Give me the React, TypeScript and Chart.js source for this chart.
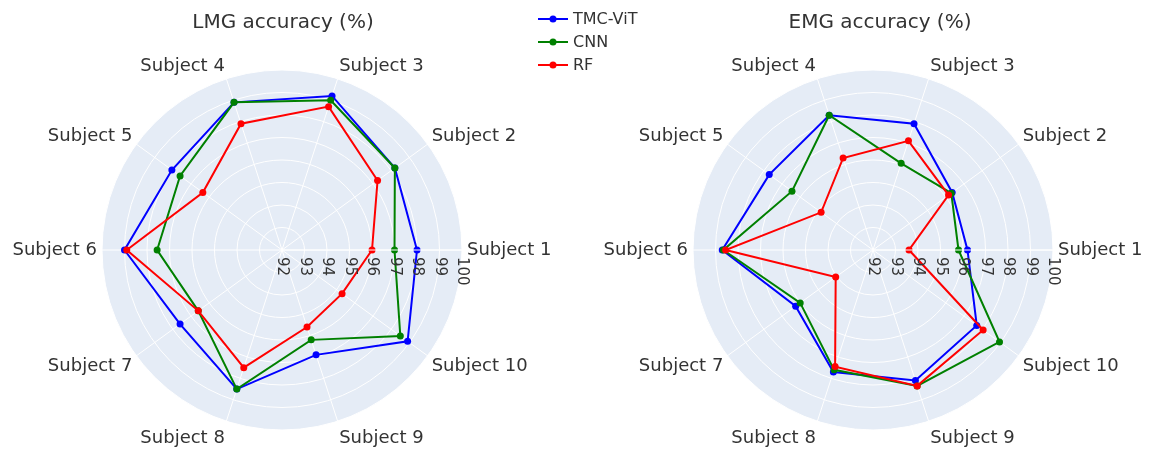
import React, { useEffect, useRef } from 'react';
import { Chart, registerables } from 'chart.js';

Chart.register(...registerables);

// ---------- data ----------
const subjects = ['Subject 1', 'Subject 2', 'Subject 3', 'Subject 4', 'Subject 5', 'Subject 6', 'Subject 7', 'Subject 8', 'Subject 9', 'Subject 10'];
const radialTicks = [92, 93, 94, 95, 96, 97, 98, 99, 100];
const seriesNames = ['TMC-ViT', 'CNN', 'RF'];
const seriesColors = ['#0000ff', '#008000', '#ff0000'];

const lmgTmcVit = [98.0, 98.2, 99.2, 98.9, 98.05, 99.0, 97.6, 98.5, 96.9, 98.9];
const lmgCnn = [97.0, 98.2, 99.0, 98.9, 97.6, 97.55, 96.6, 98.5, 96.2, 98.5];
const lmgRf = [96.0, 97.25, 98.7, 97.9, 96.35, 98.9, 96.6, 97.5, 95.6, 95.3];

const emgTmcVit = [96.2, 96.35, 97.9, 98.3, 97.7, 98.7, 96.25, 97.7, 98.1, 97.7];
const emgCnn = [95.8, 96.3, 96.05, 98.3, 96.45, 98.65, 96.0, 97.6, 98.35, 98.95];
const emgRf = [93.6, 96.15, 97.1, 96.3, 94.85, 98.55, 94.05, 97.45, 98.35, 98.05];

const lmgTitle = 'LMG accuracy (%)';
const emgTitle = 'EMG accuracy (%)';

// ---------- styling ----------
const FONT = '"DejaVu Sans", Verdana, sans-serif';
const TEXT = '#333';
const RADIUS = 180;

// Chart.js radar goes clockwise from startAngle; the reference goes counter-clockwise from 3 o'clock
const order = [0, 9, 8, 7, 6, 5, 4, 3, 2, 1];
const reorder = (a: any[]) => order.map((i) => a[i]);

const polarDecor = {
  id: 'polarDecor',
  beforeDraw(chart: any) {
    const s = chart.scales.r;
    const ctx = chart.ctx;
    ctx.save();
    ctx.fillStyle = '#e5ecf6';
    ctx.beginPath();
    ctx.arc(s.xCenter, s.yCenter, s.drawingArea, 0, Math.PI * 2);
    ctx.fill();
    ctx.restore();
  },
  afterDatasetsDraw(chart: any) {
    const s = chart.scales.r;
    const ctx = chart.ctx;
    const outer = s.getDistanceFromCenterForValue(100);
    ctx.save();
    // radial axis line drawn above traces (plotly default layer)
    ctx.strokeStyle = '#ffffff';
    ctx.lineWidth = 1;
    ctx.beginPath();
    ctx.moveTo(s.xCenter, s.yCenter);
    ctx.lineTo(s.xCenter + outer, s.yCenter);
    ctx.stroke();
    // angular category labels
    ctx.font = `18px ${FONT}`;
    ctx.fillStyle = TEXT;
    ctx.textBaseline = 'middle';
    const labels = chart.data.labels as string[];
    labels.forEach((lab, i) => {
      const p = s.getPointPosition(i, outer + 5);
      const c = Math.cos(p.angle);
      const sn = Math.sin(p.angle);
      ctx.textAlign = c > 0.05 ? 'left' : c < -0.05 ? 'right' : 'center';
      ctx.fillText(lab, p.x, p.y + 10.5 * sn + 2.5 * Math.abs(sn));
    });
    // radial tick labels, rotated along the 0° axis
    ctx.translate(s.xCenter, s.yCenter);
    ctx.rotate(Math.PI / 2);
    ctx.font = `15px ${FONT}`;
    ctx.textAlign = 'left';
    ctx.textBaseline = 'middle';
    radialTicks.forEach((v) => {
      const d = s.getDistanceFromCenterForValue(v);
      ctx.fillText(String(v), 7, -d);
    });
    ctx.restore();
  },
};

const CW = 560;
const CH = 500;

function Radar({ left, series }: { left: number; series: number[][] }) {
  const ref = useRef<HTMLCanvasElement | null>(null);
  useEffect(() => {
    if (!ref.current) return;
    const padX = CW / 2 - RADIUS;
    const padY = CH / 2 - RADIUS;
    const chart = new Chart(ref.current, {
      type: 'radar',
      data: {
        labels: reorder(subjects),
        datasets: series.map((vals, k) => ({
          label: seriesNames[k],
          data: reorder(vals),
          borderColor: seriesColors[k],
          backgroundColor: seriesColors[k],
          pointBackgroundColor: seriesColors[k],
          pointBorderColor: seriesColors[k],
          pointBorderWidth: 0,
          pointRadius: 3.5,
          borderWidth: 2,
          fill: false,
          tension: 0,
          order: 2 - k,
        })),
      },
      options: {
        responsive: false,
        animation: false,
        layout: { padding: { left: padX, right: padX, top: padY, bottom: padY } },
        plugins: { legend: { display: false }, tooltip: { enabled: false } },
        scales: {
          r: {
            min: 92,
            max: 100,
            startAngle: 90,
            beginAtZero: false,
            ticks: { display: false, stepSize: 1 },
            grid: { circular: true, color: '#ffffff', lineWidth: 1 },
            angleLines: { color: '#ffffff', lineWidth: 1 },
            pointLabels: { display: false },
          },
        },
      },
      plugins: [polarDecor],
    } as any);
    return () => chart.destroy();
  }, []);
  return (
    <canvas
      ref={ref}
      width={CW}
      height={CH}
      style={{ position: 'absolute', left, top: 250 - CH / 2, width: CW, height: CH }}
    />
  );
}

function LegendRow({ y, color, label }: { y: number; color: string; label: string }) {
  return (
    <div style={{ position: 'absolute', left: 536, top: y - 10, height: 20, display: 'flex', alignItems: 'center' }}>
      <svg width={34} height={20} style={{ display: 'block' }}>
        <line x1={2} y1={10} x2={32} y2={10} stroke={color} strokeWidth={2} />
        <circle cx={17} cy={10} r={3.5} fill={color} />
      </svg>
      <span style={{ marginLeft: 3, fontSize: 16, color: TEXT, fontFamily: FONT, lineHeight: '20px', whiteSpace: 'nowrap' }}>{label}</span>
    </div>
  );
}

export default function App() {
  return (
    <div style={{ position: 'absolute', left: 0, top: 0, width: 1157, height: 451, overflow: 'hidden', background: '#fff', fontFamily: FONT }}>
      <Radar left={282 - CW / 2} series={[lmgTmcVit, lmgCnn, lmgRf]} />
      <Radar left={873 - CW / 2} series={[emgTmcVit, emgCnn, emgRf]} />
      <div style={{ position: 'absolute', left: 83, width: 400, top: 8, textAlign: 'center', fontSize: 20, color: TEXT, lineHeight: '26px' }}>{lmgTitle}</div>
      <div style={{ position: 'absolute', left: 680, width: 400, top: 8, textAlign: 'center', fontSize: 20, color: TEXT, lineHeight: '26px' }}>{emgTitle}</div>
      <LegendRow y={19} color={seriesColors[0]} label={seriesNames[0]} />
      <LegendRow y={42} color={seriesColors[1]} label={seriesNames[1]} />
      <LegendRow y={65} color={seriesColors[2]} label={seriesNames[2]} />
    </div>
  );
}
